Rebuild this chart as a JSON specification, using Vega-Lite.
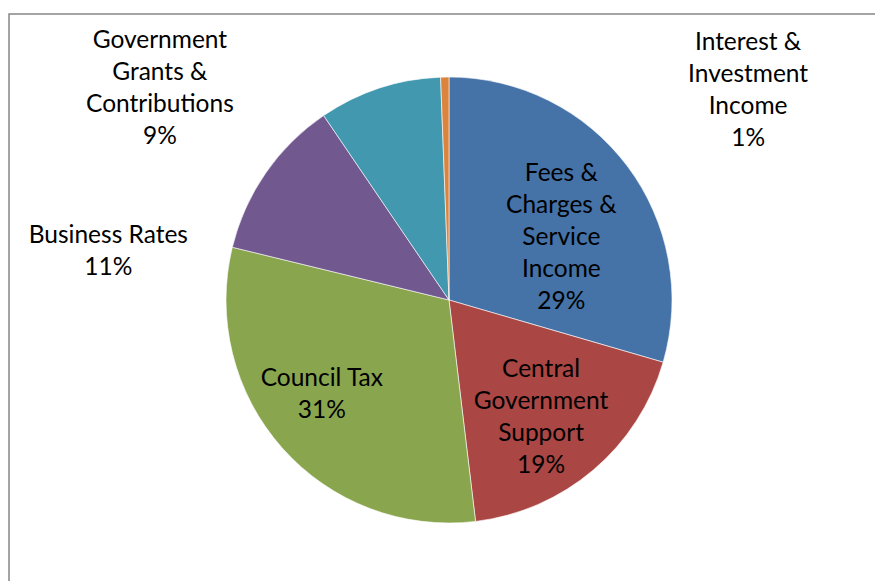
{
  "$schema": "https://vega.github.io/schema/vega-lite/v6.json",
  "width": 880,
  "height": 572,
  "autosize": "none",
  "padding": {"left": 9, "top": 14, "right": -14, "bottom": -5},
  "background": "white",
  "view": {"stroke": "#878787", "strokeWidth": 1.5},
  "config": {"view": {"stroke": "#878787", "strokeWidth": 1.5}},
  "data": {
    "values": [
      {"cat": "Fees & Charges & Service Income", "order": 1, "value": 29.5, "label": "Fees &\nCharges &\nService\nIncome\n29%"},
      {"cat": "Central Government Support", "order": 2, "value": 18.6, "label": "Central\nGovernment\nSupport\n19%"},
      {"cat": "Council Tax", "order": 3, "value": 30.7, "label": "Council Tax\n31%"},
      {"cat": "Business Rates", "order": 4, "value": 11.7, "label": "Business Rates\n11%"},
      {"cat": "Government Grants & Contributions", "order": 5, "value": 8.9, "label": "Government\nGrants &\nContributions\n9%"},
      {"cat": "Interest & Investment Income", "order": 6, "value": 0.6, "label": "Interest &\nInvestment\nIncome\n1%"}
    ]
  },
  "encoding": {
    "theta": {"field": "value", "type": "quantitative", "stack": true},
    "order": {"field": "order", "type": "quantitative"},
    "detail": {"field": "cat", "type": "nominal"}
  },
  "layer": [
    {
      "mark": {"type": "arc", "outerRadius": 223, "stroke": "#ffffff", "strokeWidth": 0.6},
      "encoding": {
        "color": {
          "field": "cat",
          "type": "nominal",
          "legend": null,
          "scale": {
            "domain": ["Fees & Charges & Service Income", "Central Government Support", "Council Tax", "Business Rates", "Government Grants & Contributions", "Interest & Investment Income"],
            "range": ["#4572A7", "#AA4643", "#89A54E", "#71588F", "#4198AF", "#DB843D"]
          }
        }
      }
    },
    {
      "mark": {"type": "text", "radius": 128, "dx": 10, "dy": -49, "lineBreak": "\n", "lineHeight": 32, "font": "Lato", "fontSize": 24.5, "fill": "#000000", "align": "center", "baseline": "middle"},
      "encoding": {"text": {"condition": {"test": "datum.order === 1", "field": "label"}, "value": ""}}
    },
    {
      "mark": {"type": "text", "radius": 150, "dx": -5, "dy": -44, "lineBreak": "\n", "lineHeight": 32, "font": "Lato", "fontSize": 24.5, "fill": "#000000", "align": "center", "baseline": "middle"},
      "encoding": {"text": {"condition": {"test": "datum.order === 2", "field": "label"}, "value": ""}}
    },
    {
      "mark": {"type": "text", "radius": 150, "dx": -15, "dy": -21, "lineBreak": "\n", "lineHeight": 32, "font": "Lato", "fontSize": 24.5, "fill": "#000000", "align": "center", "baseline": "middle"},
      "encoding": {"text": {"condition": {"test": "datum.order === 3", "field": "label"}, "value": ""}}
    },
    {
      "mark": {"type": "text", "radius": 260, "dx": -127, "dy": 84, "lineBreak": "\n", "lineHeight": 32, "font": "Lato", "fontSize": 24.5, "fill": "#000000", "align": "center", "baseline": "middle"},
      "encoding": {"text": {"condition": {"test": "datum.order === 4", "field": "label"}, "value": ""}}
    },
    {
      "mark": {"type": "text", "radius": 260, "dx": -208, "dy": -12, "lineBreak": "\n", "lineHeight": 32, "font": "Lato", "fontSize": 24.5, "fill": "#000000", "align": "center", "baseline": "middle"},
      "encoding": {"text": {"condition": {"test": "datum.order === 5", "field": "label"}, "value": ""}}
    },
    {
      "mark": {"type": "text", "radius": 260, "dx": 304, "dy": 3, "lineBreak": "\n", "lineHeight": 32, "font": "Lato", "fontSize": 24.5, "fill": "#000000", "align": "center", "baseline": "middle"},
      "encoding": {"text": {"condition": {"test": "datum.order === 6", "field": "label"}, "value": ""}}
    }
  ]
}
